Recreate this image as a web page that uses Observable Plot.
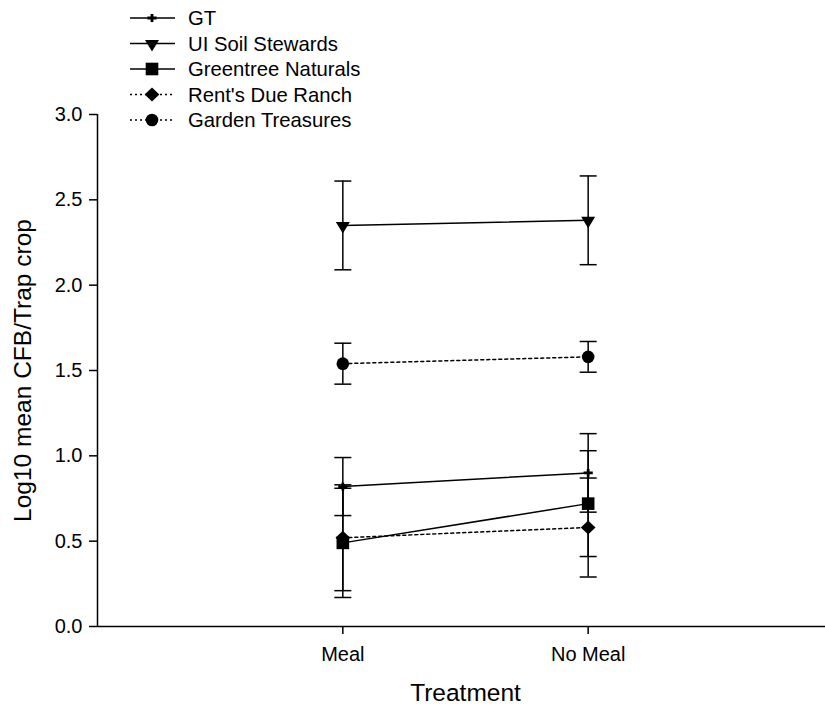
<!DOCTYPE html>
<html>
<head>
<meta charset="utf-8">
<script src="https://cdn.jsdelivr.net/npm/d3@7"></script>
<script src="https://cdn.jsdelivr.net/npm/@observablehq/plot@0.6"></script>
<style>
  html, body { margin: 0; padding: 0; background: white; }
  #chart { position: relative; width: 825px; height: 715px; font-family: "Liberation Sans", Arial, sans-serif; }
  #legend { position: absolute; left: 0; top: 0; }
</style>
</head>
<body>
<div id="chart"></div>
<script>
// ---- data ----
const categories = ["Meal", "No Meal"];
const seriesNames = ["GT", "UI Soil Stewards", "Greentree Naturals", "Rent's Due Ranch", "Garden Treasures"];
const gtMean = [0.82, 0.90];
const gtErr = [0.17, 0.23];
const uiMean = [2.35, 2.38];
const uiErr = [0.26, 0.26];
const greenMean = [0.49, 0.72];
const greenErr = [0.32, 0.31];
const rentMean = [0.52, 0.58];
const rentErr = [0.31, 0.29];
const gardenMean = [1.54, 1.58];
const gardenErr = [0.12, 0.09];
const yTicks = [0, 0.5, 1.0, 1.5, 2.0, 2.5, 3.0];
const xLabel = "Treatment";
const yLabel = "Log10 mean CFB/Trap crop";

// ---- symbols ----
const rOf = size => Math.sqrt(size / Math.PI);
const plusSym = { draw(ctx, size) { const r = rOf(size), t = 1.4;
  ctx.moveTo(-r, -t); ctx.lineTo(r, -t); ctx.lineTo(r, t); ctx.lineTo(-r, t); ctx.closePath();
  ctx.moveTo(-t, -r * 0.85); ctx.lineTo(t, -r * 0.85); ctx.lineTo(t, r * 0.85); ctx.lineTo(-t, r * 0.85); ctx.closePath(); } };
const downTri = { draw(ctx, size) { const r = rOf(size);
  ctx.moveTo(-r, -0.5 * r); ctx.lineTo(r, -0.5 * r); ctx.lineTo(0, 1.15 * r); ctx.closePath(); } };
const squareSym = { draw(ctx, size) { const r = rOf(size);
  ctx.moveTo(-r, -r); ctx.lineTo(r, -r); ctx.lineTo(r, r); ctx.lineTo(-r, r); ctx.closePath(); } };
const diamondSym = { draw(ctx, size) { const r = rOf(size);
  ctx.moveTo(0, -r); ctx.lineTo(r * 1.05, 0); ctx.lineTo(0, r); ctx.lineTo(-r * 1.05, 0); ctx.closePath(); } };
const circleSym = { draw(ctx, size) { const r = rOf(size); ctx.moveTo(r, 0); ctx.arc(0, 0, r, 0, 2 * Math.PI); } };
const capSym = { draw(ctx, size) { const r = rOf(size); ctx.moveTo(-r, 0); ctx.lineTo(r, 0); } };

const styles = [
  { sym: plusSym, r: 4.6, dash: null },
  { sym: downTri, r: 7, dash: null },
  { sym: squareSym, r: 6.3, dash: null },
  { sym: diamondSym, r: 7, dash: "3,3" },
  { sym: circleSym, r: 6.3, dash: "3,3" }
];
const means = [gtMean, uiMean, greenMean, rentMean, gardenMean];
const errs = [gtErr, uiErr, greenErr, rentErr, gardenErr];

const rows = [];
seriesNames.forEach((s, i) => categories.forEach((c, j) => {
  rows.push({ series: s, si: i, cat: c, x: j + 1, mean: means[i][j], err: errs[i][j] });
}));

const marks = [
  Plot.axisY({ ticks: yTicks, tickFormat: d => d.toFixed(1), tickSize: 8, tickPadding: 7, fontSize: 20, label: null, strokeWidth: 1.5 }),
  Plot.axisX({ ticks: [1, 2], tickFormat: d => categories[d - 1], tickSize: 8, tickPadding: 12, fontSize: 20, label: null, strokeWidth: 1.5 }),
  Plot.ruleX([0], { y1: 0, y2: 3, strokeWidth: 1.5 }),
  Plot.ruleY([0], { x1: 0, x2: 3, strokeWidth: 1.5 }),
  Plot.ruleX(rows, { x: "x", y1: d => d.mean - d.err, y2: d => d.mean + d.err, strokeWidth: 1.5 }),
  Plot.dot(rows, { x: "x", y: d => d.mean + d.err, symbol: capSym, r: 8.5, stroke: "black", fill: "none", strokeWidth: 1.5 }),
  Plot.dot(rows, { x: "x", y: d => d.mean - d.err, symbol: capSym, r: 8.5, stroke: "black", fill: "none", strokeWidth: 1.5 })
];
seriesNames.forEach((s, i) => {
  const data = rows.filter(d => d.si === i);
  const st = styles[i];
  marks.push(Plot.line(data, { x: "x", y: "mean", stroke: "black", strokeWidth: 1.5, strokeDasharray: st.dash || undefined }));
  marks.push(Plot.dot(data, { x: "x", y: "mean", symbol: st.sym, r: st.r, fill: "black", stroke: "none" }));
});
marks.push(Plot.text([xLabel], { frameAnchor: "bottom", textAnchor: "middle", dy: 74, dx: 4, fontSize: 24.5 }));
marks.push(Plot.text([yLabel], { frameAnchor: "left", textAnchor: "middle", rotate: -90, dx: -74, fontSize: 24.5 }));

const chart = Plot.plot({
  width: 825,
  height: 715,
  marginLeft: 97,
  marginRight: 0,
  marginTop: 114,
  marginBottom: 89,
  style: { fontFamily: "'Liberation Sans', Arial, sans-serif", background: "white", color: "black", overflow: "hidden" },
  x: { domain: [0, 3], range: [97, 833] },
  y: { domain: [0, 3] },
  marks
});
const container = document.getElementById("chart");
container.appendChild(chart);

// ---- legend (overlay, upper left) ----
const lg = d3.select(container).append("svg").attr("id", "legend").attr("width", 420).attr("height", 135)
  .style("font-family", "'Liberation Sans', Arial, sans-serif");
seriesNames.forEach((s, i) => {
  const st = styles[i];
  const g = lg.append("g").attr("transform", `translate(0,${18 + i * 25.5})`);
  g.append("line").attr("x1", 130).attr("x2", 175).attr("y1", 0).attr("y2", 0)
    .attr("stroke", "black").attr("stroke-width", 1.5).attr("stroke-dasharray", st.dash ? "2,3" : null);
  g.append("path").attr("transform", "translate(152,0)").attr("d", d3.symbol(st.sym, st.r * st.r * Math.PI)()).attr("fill", "black");
  g.append("text").attr("x", 188).attr("y", 0).attr("dy", "0.36em").attr("font-size", 20.3).attr("fill", "black").text(s);
});
</script>
</body>
</html>
